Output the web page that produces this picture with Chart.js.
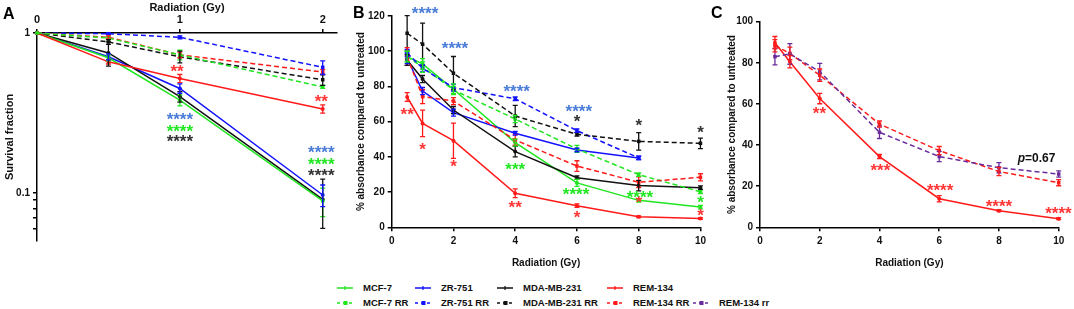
<!DOCTYPE html>
<html>
<head>
<meta charset="utf-8">
<script src="https://cdn.jsdelivr.net/npm/chart.js@4.4.1/dist/chart.umd.min.js"></script>
<style>
  body { margin: 0; background: #fff; width: 1074px; height: 309px; overflow: hidden; position: relative; font-family: 'Liberation Sans', Arial, sans-serif; }
  .panel { position: absolute; top: 0; }
  .letter { position: absolute; font: bold 16px/16px 'Liberation Sans', Arial, sans-serif; color: #000; }
  .leg { position: absolute; font: bold 9.5px/12px 'Liberation Sans', Arial, sans-serif; color: #111; white-space: nowrap; }
  .leg svg { position: absolute; left: 0; top: 3px; }
  .leg span { position: absolute; top: 0; }
</style>
</head>
<body>
<div class="panel" style="left:0"><canvas id="chartA" width="345" height="250"></canvas></div>
<div class="panel" style="left:345px"><canvas id="chartB" width="365" height="270"></canvas></div>
<div class="panel" style="left:710px"><canvas id="chartC" width="364" height="270"></canvas></div>
<div class="letter" style="left:3px;top:6px">A</div>
<div class="letter" style="left:353px;top:5px">B</div>
<div class="letter" style="left:711px;top:5px">C</div>
<div id="legend"></div>
<script>
// ---- series names / colours ----
var names = ['MCF-7', 'ZR-751', 'MDA-MB-231', 'REM-134', 'MCF-7 RR', 'ZR-751 RR', 'MDA-MB-231 RR', 'REM-134 RR', 'REM-134 rr'];
var colors = ['#1fe61f', '#1212ff', '#111111', '#ff1a1a', '#1fe61f', '#1212ff', '#111111', '#ff1a1a', '#6a2c9c'];
var dashed = [false, false, false, false, true, true, true, true, true];

// ---- panel A: survival fraction ----
var doseA = [0, 0.5, 1, 2];
var A_mcf7     = [1, 0.70, 0.38, 0.089];
var A_mcf7_err = [0, 0.03, 0.03, 0.018];
var A_zr       = [1, 0.71, 0.45, 0.097];
var A_zr_err   = [0, 0.03, 0.03, 0.015];
var A_mda      = [1, 0.75, 0.40, 0.091];
var A_mda_err  = [0, 0.13, 0.03, 0.031];
var A_rem      = [1, 0.66, 0.52, 0.335];
var A_rem_err  = [0, 0.02, 0.03, 0.02];
var A_mcf7rr     = [1, 0.93, 0.73, 0.46];
var A_mcf7rr_err = [0, 0.02, 0.05, 0.01];
var A_zrrr       = [1, 0.99, 0.94, 0.61];
var A_zrrr_err   = [0, 0.01, 0.02, 0.06];
var A_mdarr      = [1, 0.88, 0.71, 0.51];
var A_mdarr_err  = [0, 0.03, 0.06, 0.04];
var A_remrr      = [1, 0.94, 0.73, 0.57];
var A_remrr_err  = [0, 0.02, 0.03, 0.02];
var A_xTicks = [0, 1, 2];
var A_yTicks = [1, 0.1, 0.09, 0.08, 0.07, 0.06];
var A_yTickLabels = ['1', '0.1', '', '', '', ''];

// ---- panel B: absorbance ----
var doseB = [0.5, 1, 2, 4, 6, 8, 10];
var B_mcf7     = [96.9, 92.8, 78.4, 48.1, 25.2, 15.3, 11.5];
var B_mcf7_err = [3, 3, 3, 2, 2, 1, 1];
var B_zr       = [96, 77.4, 65.1, 53.4, 43.9, 39.4, null];
var B_zr_err   = [3, 2, 2, 1, 1, 1, 0];
var B_mda      = [95, 84.2, 66.6, 43, 28.2, 23.7, 22.5];
var B_mda_err  = [3, 2, 2, 3, 1, 3, 1];
var B_rem      = [74, 59, 49.2, 19.3, 12.3, 6, 5];
var B_rem_err  = [2.5, 7.5, 10, 2.5, 1, 0.5, 0.5];
var B_mcf7rr     = [97, 91, 78, 61.5, 44.5, 29.9, 20.2];
var B_mcf7rr_err = [3, 3, 2, 2, 2, 1, 1];
var B_zrrr       = [99, 90.3, 79.3, 73, 54.9, 39.4, null];
var B_zrrr_err   = [2, 2, 2, 1, 1, 1, 0];
var B_mdarr      = [110.2, 104, 87.5, 63.2, 52.8, 48.8, 47.7];
var B_mdarr_err  = [10, 12, 9.5, 6, 1, 5, 3];
var B_remrr      = [97, 74.2, 71.7, 49.6, 34.8, 25.6, 28.4];
var B_remrr_err  = [5, 4, 2, 3, 3, 3, 2];
var B_xTicks = [0, 2, 4, 6, 8, 10];
var B_yTicks = [0, 20, 40, 60, 80, 100, 120];

// ---- panel C: REM-134 lines ----
var doseC = [0.5, 1, 2, 4, 6, 8, 10];
var C_rem       = [89.8, 80.5, 62.6, 34.4, 13.9, 8.1, 4.2];
var C_rem_err   = [3, 3, 2.5, 1, 1.5, 0.5, 0.5];
var C_remrr     = [88.3, 84.6, 74, 50.2, 37.3, 27.1, 21.7];
var C_remrr_err = [3, 3, 3, 1.5, 2, 2, 1.5];
var C_remrr2     = [83, 84.3, 75.7, 46.2, 34.4, 29, 25.9];
var C_remrr2_err = [4, 5, 4, 3, 2.5, 2.5, 1.5];
var C_xTicks = [0, 2, 4, 6, 8, 10];
var C_yTicks = [0, 20, 40, 60, 80, 100];

// ---- significance marks (data coordinates) ----
var starBlue = '#4a7cd8', starGreen = '#22e622', starBlack = '#333333', starRed = '#ff3535';
var A_marks = [
  { x: 0.98, y: 0.60, text: '**', color: starRed },
  { x: 1.99, y: 0.387, text: '**', color: starRed },
  { x: 1, y: 0.30, text: '****', color: starBlue },
  { x: 1, y: 0.252, text: '****', color: starGreen },
  { x: 1, y: 0.219, text: '****', color: starBlack },
  { x: 1.99, y: 0.187, text: '****', color: starBlue },
  { x: 1.99, y: 0.156, text: '****', color: starGreen },
  { x: 1.99, y: 0.135, text: '****', color: starBlack }
];
var B_marks = [
  { x: 1.08, y: 123, text: '****', color: starBlue },
  { x: 2.05, y: 103, text: '****', color: starBlue },
  { x: 4.05, y: 79, text: '****', color: starBlue },
  { x: 6.06, y: 67.5, text: '****', color: starBlue },
  { x: 6, y: 62, text: '*', color: starBlack },
  { x: 8, y: 59.4, text: '*', color: starBlack },
  { x: 10, y: 55.6, text: '*', color: starBlack },
  { x: 0.5, y: 66, text: '**', color: starRed },
  { x: 1, y: 45.8, text: '*', color: starRed },
  { x: 2, y: 36, text: '*', color: starRed },
  { x: 4, y: 13.2, text: '**', color: starRed },
  { x: 6, y: 7, text: '*', color: starRed },
  { x: 8, y: 15.9, text: '*', color: starRed },
  { x: 10, y: 8.3, text: '*', color: starRed },
  { x: 4, y: 34.4, text: '***', color: starGreen },
  { x: 5.97, y: 20.2, text: '****', color: starGreen },
  { x: 8.04, y: 18.7, text: '****', color: starGreen },
  { x: 10, y: 15.9, text: '*', color: starGreen }
];
var C_marks = [
  { x: 1.99, y: 57, text: '**', color: starRed },
  { x: 4.03, y: 29, text: '***', color: starRed },
  { x: 6.03, y: 19.3, text: '****', color: starRed },
  { x: 8, y: 11.7, text: '****', color: starRed },
  { x: 9.99, y: 8.1, text: '****', color: starRed }
];
var C_pValue = { x: 9.26, y: 33.6, prefix: 'p', text: '=0.67' };

Chart.defaults.font.family = "'Liberation Sans', Arial, sans-serif";
Chart.defaults.font.weight = 'bold';
Chart.defaults.font.size = 10;
Chart.defaults.color = '#111';

function series(idx, xs, ys, errs) {
  var pts = [];
  xs.forEach(function (x, i) { if (ys[i] !== null) pts.push({ x: x, y: ys[i], e: errs[i] }); });
  return {
    label: names[idx],
    data: pts,
    borderColor: colors[idx],
    backgroundColor: colors[idx],
    borderWidth: 1.5,
    borderDash: dashed[idx] ? [5, 3] : [],
    pointStyle: dashed[idx] ? 'rect' : 'circle',
    pointRadius: dashed[idx] ? 2.5 : 2,
    pointBorderWidth: 0,
    tension: 0,
    clip: false
  };
}

var errorBars = {
  id: 'errorBars',
  afterDatasetsDraw: function (chart) {
    var ctx = chart.ctx, xs = chart.scales.x, ys = chart.scales.y;
    ctx.save();
    chart.data.datasets.forEach(function (ds) {
      ctx.strokeStyle = ds.borderColor;
      ctx.lineWidth = 1.3;
      ds.data.forEach(function (p) {
        if (!p.e) return;
        var px = xs.getPixelForValue(p.x);
        var y1 = ys.getPixelForValue(p.y + p.e);
        var y2 = ys.getPixelForValue(Math.max(p.y - p.e, ys.min));
        ctx.beginPath();
        ctx.moveTo(px, y1); ctx.lineTo(px, y2);
        ctx.moveTo(px - 2.5, y1); ctx.lineTo(px + 2.5, y1);
        ctx.moveTo(px - 2.5, y2); ctx.lineTo(px + 2.5, y2);
        ctx.stroke();
      });
    });
    ctx.restore();
  }
};

function starPlugin(marks, extra) {
  return {
    id: 'stars',
    afterDraw: function (chart) {
      var ctx = chart.ctx, xs = chart.scales.x, ys = chart.scales.y;
      ctx.save();
      ctx.font = "bold 17px 'Liberation Sans', Arial, sans-serif";
      ctx.textAlign = 'center';
      ctx.textBaseline = 'alphabetic';
      marks.forEach(function (m) {
        var m2 = ctx.measureText(m.text);
        var px = xs.getPixelForValue(m.x), py = ys.getPixelForValue(m.y);
        ctx.fillStyle = m.color;
        ctx.fillText(m.text, px, py + (m2.actualBoundingBoxAscent - m2.actualBoundingBoxDescent) / 2);
      });
      if (extra) {
        var px = xs.getPixelForValue(extra.x), py = ys.getPixelForValue(extra.y);
        ctx.fillStyle = '#111';
        ctx.textBaseline = 'middle';
        ctx.textAlign = 'left';
        ctx.font = "italic bold 12px 'Liberation Sans', Arial, sans-serif";
        var w1 = ctx.measureText(extra.prefix).width;
        ctx.font = "bold 12px 'Liberation Sans', Arial, sans-serif";
        var w2 = ctx.measureText(extra.text).width;
        var x0 = px - (w1 + w2) / 2;
        ctx.font = "italic bold 12px 'Liberation Sans', Arial, sans-serif";
        ctx.fillText(extra.prefix, x0, py);
        ctx.font = "bold 12px 'Liberation Sans', Arial, sans-serif";
        ctx.fillText(extra.text, x0 + w1, py);
      }
      ctx.restore();
    }
  };
}

var whiteBg = {
  id: 'whiteBg',
  beforeDraw: function (chart) {
    var ctx = chart.ctx;
    ctx.save();
    ctx.globalCompositeOperation = 'destination-over';
    ctx.fillStyle = 'white';
    ctx.fillRect(0, 0, chart.width, chart.height);
    ctx.restore();
  }
};

function axisStyle() {
  return {
    grid: { drawOnChartArea: false, drawTicks: true, tickLength: 4, color: '#000', lineWidth: 1.5 },
    border: { color: '#000', width: 1.5 }
  };
}

function setTicks(list) {
  return function (scale) { scale.ticks = list.map(function (v) { return { value: v }; }); };
}

// ---- chart A ----
var chartA = new Chart(document.getElementById('chartA'), {
  type: 'line',
  data: {
    datasets: [
      series(4, doseA, A_mcf7rr, A_mcf7rr_err),
      series(7, doseA, A_remrr, A_remrr_err),
      series(6, doseA, A_mdarr, A_mdarr_err),
      series(5, doseA, A_zrrr, A_zrrr_err),
      series(3, doseA, A_rem, A_rem_err),
      series(0, doseA, A_mcf7, A_mcf7_err),
      series(2, doseA, A_mda, A_mda_err),
      series(1, doseA, A_zr, A_zr_err)
    ]
  },
  options: {
    responsive: false,
    animation: false,
    layout: { padding: { left: 0, right: 8, top: 0, bottom: 8.5 } },
    plugins: { legend: { display: false }, tooltip: { enabled: false } },
    scales: {
      x: Object.assign(axisStyle(), {
        type: 'linear', position: 'top', min: 0, max: 2.1,
        afterBuildTicks: setTicks(A_xTicks),
        ticks: { autoSkip: false, maxRotation: 0, padding: 2, font: { size: 11 } },
        title: { display: true, text: 'Radiation (Gy)', font: { size: 11 }, padding: { top: 1, bottom: 0 } },
        afterFit: function (s) { s.height = 33; }
      }),
      y: Object.assign(axisStyle(), {
        type: 'logarithmic', min: 0.05, max: 1,
        afterBuildTicks: setTicks(A_yTicks),
        ticks: { autoSkip: false, padding: 3, font: { size: 10 }, callback: function (v, i) { return A_yTickLabels[i]; } },
        title: { display: true, text: 'Survival fraction', font: { size: 11 }, padding: { top: 3, bottom: 0 } },
        afterFit: function (s) { s.width = 37; }
      })
    }
  },
  plugins: [errorBars, starPlugin(A_marks), whiteBg]
});

// ---- chart B ----
var chartB = new Chart(document.getElementById('chartB'), {
  type: 'line',
  data: {
    datasets: [
      series(6, doseB, B_mdarr, B_mdarr_err),
      series(5, doseB, B_zrrr, B_zrrr_err),
      series(7, doseB, B_remrr, B_remrr_err),
      series(4, doseB, B_mcf7rr, B_mcf7rr_err),
      series(2, doseB, B_mda, B_mda_err),
      series(1, doseB, B_zr, B_zr_err),
      series(0, doseB, B_mcf7, B_mcf7_err),
      series(3, doseB, B_rem, B_rem_err)
    ]
  },
  options: {
    responsive: false,
    animation: false,
    layout: { padding: { left: 0, right: 9, top: 16, bottom: 0 } },
    plugins: { legend: { display: false }, tooltip: { enabled: false } },
    scales: {
      x: Object.assign(axisStyle(), {
        type: 'linear', min: 0, max: 10,
        afterBuildTicks: setTicks(B_xTicks),
        ticks: { autoSkip: false, maxRotation: 0, padding: 4 },
        title: { display: true, text: 'Radiation (Gy)', padding: { top: 0, bottom: 1 } },
        afterFit: function (s) { s.height = 42.7; }
      }),
      y: Object.assign(axisStyle(), {
        type: 'linear', min: 0, max: 120,
        afterBuildTicks: setTicks(B_yTicks),
        ticks: { autoSkip: false, padding: 3 },
        title: { display: true, text: '% absorbance compared to untreated', padding: { top: 10, bottom: 0 } },
        afterFit: function (s) { s.width = 46.7; }
      })
    }
  },
  plugins: [errorBars, starPlugin(B_marks), whiteBg]
});

// ---- chart C ----
var chartC = new Chart(document.getElementById('chartC'), {
  type: 'line',
  data: {
    datasets: [
      series(8, doseC, C_remrr2, C_remrr2_err),
      series(7, doseC, C_remrr, C_remrr_err),
      series(3, doseC, C_rem, C_rem_err)
    ]
  },
  options: {
    responsive: false,
    animation: false,
    layout: { padding: { left: 0, right: 15.3, top: 21.7, bottom: 0 } },
    plugins: { legend: { display: false }, tooltip: { enabled: false } },
    scales: {
      x: Object.assign(axisStyle(), {
        type: 'linear', min: 0, max: 10,
        afterBuildTicks: setTicks(C_xTicks),
        ticks: { autoSkip: false, maxRotation: 0, padding: 4 },
        title: { display: true, text: 'Radiation (Gy)', padding: { top: 0, bottom: 1 } },
        afterFit: function (s) { s.height = 42.7; }
      }),
      y: Object.assign(axisStyle(), {
        type: 'linear', min: 0, max: 100,
        afterBuildTicks: setTicks(C_yTicks),
        ticks: { autoSkip: false, padding: 3 },
        title: { display: true, text: '% absorbance compared to untreated', padding: { top: 16.7, bottom: 0 } },
        afterFit: function (s) { s.width = 50; }
      })
    }
  },
  plugins: [errorBars, starPlugin(C_marks, C_pValue), whiteBg]
});

// ---- legend (two rows under panel B) ----
var legendCols = [337, 415, 497, 607, 693];
var legendRows = [282, 297];
var legendSlots = [[0, 0], [0, 1], [0, 2], [0, 3], [1, 0], [1, 1], [1, 2], [1, 3], [1, 4]];
var legendHtml = '';
names.forEach(function (n, i) {
  var r = legendSlots[i][0], c = legendSlots[i][1];
  var col = colors[i];
  var line = dashed[i]
    ? '<line x1="0" y1="3" x2="16" y2="3" stroke="' + col + '" stroke-width="1.5" stroke-dasharray="3,3"/>' +
      '<rect x="6.5" y="1" width="4" height="4" fill="' + col + '"/>'
    : '<line x1="0" y1="3" x2="16" y2="3" stroke="' + col + '" stroke-width="1.5"/>' +
      '<line x1="8" y1="1" x2="8" y2="5" stroke="' + col + '" stroke-width="1.2"/>';
  legendHtml += '<div class="leg" style="left:' + legendCols[c] + 'px;top:' + legendRows[r] + 'px">' +
    '<svg width="16" height="6">' + line + '</svg><span style="left:26px">' + n + '</span></div>';
});
document.getElementById('legend').innerHTML = legendHtml;
</script>
</body>
</html>
